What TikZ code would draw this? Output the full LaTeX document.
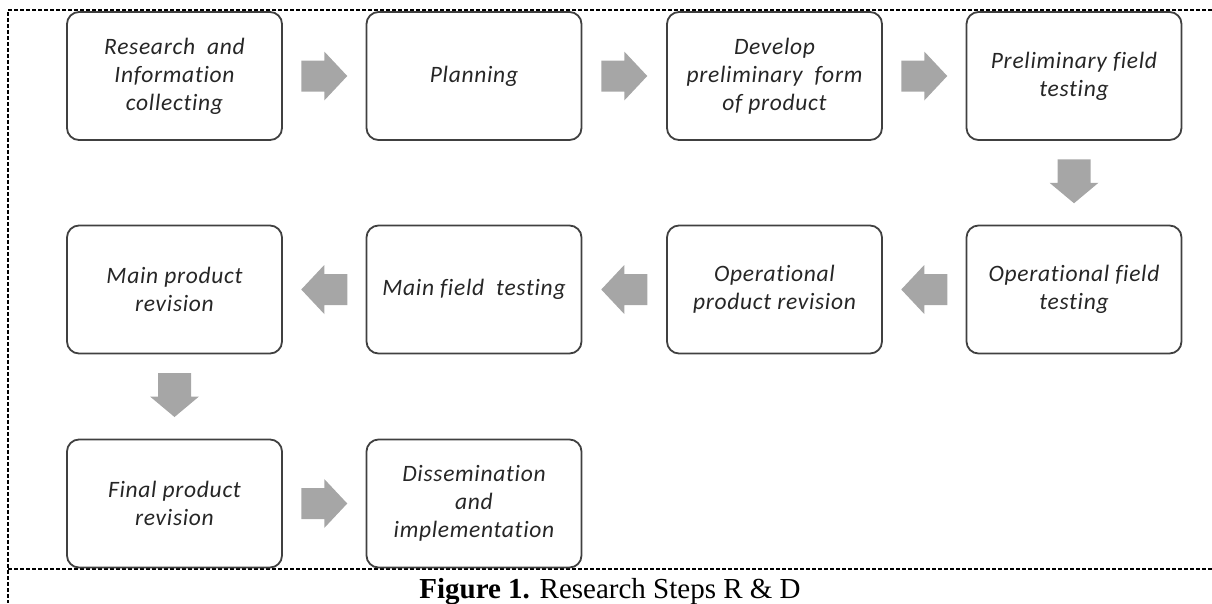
\documentclass[tikz,border=0pt]{standalone}
\usepackage{fontspec}
\setmainfont{Liberation Serif}
\newfontfamily\boxfont[Ligatures=NoCommon,LetterSpace=3]{Carlito}
\usetikzlibrary{calc}
\definecolor{arrowgray}{HTML}{A6A6A6}
\definecolor{boxline}{HTML}{404040}
\definecolor{boxtext}{HTML}{262626}
\tikzset{
  stepbox/.style={draw=boxline, line width=1.8pt, rounded corners=12pt,
    minimum width=215pt, minimum height=128pt, align=center,
    font=\boxfont\itshape\fontsize{23.5}{28}\selectfont, text=boxtext, inner sep=0pt},
  rarrow/.pic={\fill[arrowgray] (-23,-15.5) -- (0,-15.5) -- (0,-24.5) -- (23,0) -- (0,24.5) -- (0,15.5) -- (-23,15.5) -- cycle;},
  larrow/.pic={\fill[arrowgray] (23,-15.5) -- (0,-15.5) -- (0,-24.5) -- (-23,0) -- (0,24.5) -- (0,15.5) -- (23,15.5) -- cycle;},
  darrow/.pic={\fill[arrowgray] (-16.5,-23.5) -- (16.5,-23.5) -- (16.5,0) -- (24.5,0) -- (0,20.5) -- (-24.5,0) -- (-16.5,0) -- cycle;},
  frameline/.style={draw=black, line width=1.2pt, dash pattern=on 4pt off 2pt}
}
\begin{document}
\begin{tikzpicture}[x=1pt,y=-1pt]
\useasboundingbox (0,0) rectangle (1212,603);
% frame
\coordinate (ftl) at (8,10);
\coordinate (ftr) at (1212,10);
\coordinate (fbl) at (8,603);
\coordinate (fml) at (8,569);
\coordinate (fmr) at (1212,569);
\draw[frameline] (ftr) -- (ftl) -- (fbl);
\draw[frameline] (fml) -- (fmr);
% boxes
\node[stepbox] (b1) at (174.5,76) {Research\ \ and\\Information\\collecting};
\node[stepbox] (b2) at (474,76) {Planning};
\node[stepbox] (b3) at (774.5,76) {Develop\\preliminary\ \ form\\of product};
\node[stepbox] (b4) at (1074,76) {Preliminary field\\testing};
\node[stepbox] (b5) at (1074,289.5) {Operational field\\testing};
\node[stepbox] (b6) at (774.5,289.5) {Operational\\product revision};
\node[stepbox] (b7) at (474,289.5) {Main field\ \ testing};
\node[stepbox] (b8) at (174.5,289.5) {Main product\\revision};
\node[stepbox] (b9) at (174.5,503.5) {Final product\\revision};
\node[stepbox] (b10) at (474,503.5) {Dissemination\\and\\implementation};
% arrows
\pic at ($(b1.east)!0.5!(b2.west)$) {rarrow};
\pic at ($(b2.east)!0.5!(b3.west)$) {rarrow};
\pic at ($(b3.east)!0.5!(b4.west)$) {rarrow};
\pic at ($(b4.south)!0.5!(b5.north)$) {darrow};
\pic at ($(b5.west)!0.5!(b6.east)$) {larrow};
\pic at ($(b6.west)!0.5!(b7.east)$) {larrow};
\pic at ($(b7.west)!0.5!(b8.east)$) {larrow};
\pic at ($(b8.south)!0.5!(b9.north)$) {darrow};
\pic at ($(b9.east)!0.5!(b10.west)$) {rarrow};
% caption
\node[anchor=base, font=\fontsize{29}{34}\selectfont, inner sep=0pt] (cap) at (610,598) {\textbf{Figure 1.} Research Steps R \& D};
\end{tikzpicture}
\end{document}
